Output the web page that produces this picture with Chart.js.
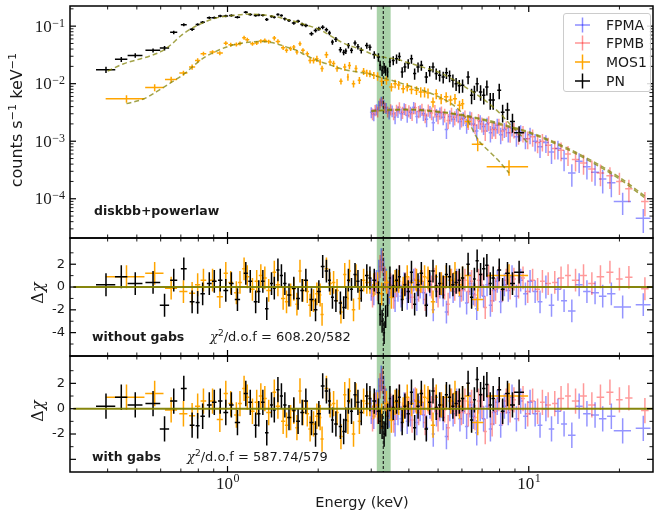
<!DOCTYPE html>
<html><head><meta charset="utf-8">
<script src="https://cdn.jsdelivr.net/npm/chart.js@4.4.0/dist/chart.umd.min.js"></script>
<style>
html,body{margin:0;padding:0;background:#fff;}
#wrap{position:relative;width:654px;height:519px;overflow:hidden;font-family:"DejaVu Sans",sans-serif;color:#1a1a1a;}
canvas{position:absolute;left:0;top:0;}
.t{position:absolute;white-space:nowrap;line-height:1;}
.rot{transform:translate(-50%,-50%) rotate(-90deg);}
.b{font-weight:bold;}
sup{font-size:70%;vertical-align:0;position:relative;top:-0.5em;}
#legend{position:absolute;left:563px;top:13px;width:86px;height:77px;border:1px solid #cccccc;border-radius:3px;background:rgba(255,255,255,0.85);}
#legend .it{position:absolute;left:42px;font-size:14px;line-height:1;}
</style></head><body>
<div id="wrap">
<canvas id="c1" width="654" height="519"></canvas>
<canvas id="c2" width="654" height="519"></canvas>
<canvas id="c3" width="654" height="519"></canvas>

<div class="t rot" style="left:17px;top:120px;font-size:16px;">counts s<sup>−1</sup> keV<sup>−1</sup></div>
<div class="t rot" style="left:38px;top:293px;font-size:16px;font-family:'DejaVu Serif',serif;">Δ<i>χ</i></div>
<div class="t rot" style="left:38px;top:411px;font-size:16px;font-family:'DejaVu Serif',serif;">Δ<i>χ</i></div>

<div class="t b" style="left:94px;top:205px;font-size:12.5px;">diskbb+powerlaw</div>
<div class="t b" style="left:92px;top:331px;font-size:12.5px;">without gabs</div>
<div class="t" style="left:210px;top:330px;font-size:13px;"><i style="font-family:'DejaVu Serif',serif;">χ</i><sup>2</sup>/d.o.f = 608.20/582</div>
<div class="t b" style="left:92px;top:451px;font-size:12.5px;">with gabs</div>
<div class="t" style="left:187px;top:450px;font-size:13px;"><i style="font-family:'DejaVu Serif',serif;">χ</i><sup>2</sup>/d.o.f = 587.74/579</div>
<div class="t" style="left:362px;top:502px;font-size:14.5px;transform:translate(-50%,-50%);">Energy (keV)</div>

<div id="legend">
<svg width="40" height="77" style="position:absolute;left:0;top:0;">
<g stroke-width="1.5">
<line x1="11" y1="11" x2="26" y2="11" stroke="rgba(0,0,255,0.45)"/><line x1="18.5" y1="3.5" x2="18.5" y2="18.5" stroke="rgba(0,0,255,0.45)"/>
<line x1="11" y1="29" x2="26" y2="29" stroke="rgba(255,0,0,0.42)"/><line x1="18.5" y1="21.5" x2="18.5" y2="36.5" stroke="rgba(255,0,0,0.42)"/>
<line x1="11" y1="48" x2="26" y2="48" stroke="#ffa500"/><line x1="18.5" y1="40.5" x2="18.5" y2="55.5" stroke="#ffa500"/>
<line x1="11" y1="67" x2="26" y2="67" stroke="#000"/><line x1="18.5" y1="59.5" x2="18.5" y2="74.5" stroke="#000"/>
</g></svg>
<div class="it" style="top:4px;">FPMA</div>
<div class="it" style="top:22px;">FPMB</div>
<div class="it" style="top:41px;">MOS1</div>
<div class="it" style="top:60px;">PN</div>
</div>
</div>

<script>
// ---------------- axis ranges & ticks ----------------
const XMIN = 0.3078, XMAX = 25.85;
const BAND = [3.13, 3.48];
const LINE_E = 3.29;
const xMajorTicks = [1, 10];
const xMinorTicks = [0.4,0.5,0.6,0.7,0.8,0.9,2,3,4,5,6,7,8,9,20];
const xTickExp = ['0','1'];
const specMajorTicks = [1e-1,1e-2,1e-3,1e-4];
const specTickExp = ['−1','−2','−3','−4'];
const specMinorTicks = [3e-5,4e-5,5e-5,6e-5,7e-5,8e-5,9e-5,2e-4,3e-4,4e-4,5e-4,6e-4,7e-4,8e-4,9e-4,
  2e-3,3e-3,4e-3,5e-3,6e-3,7e-3,8e-3,9e-3,2e-2,3e-2,4e-2,5e-2,6e-2,7e-2,8e-2,9e-2,2e-1];
const res1Major = [-4,-2,0,2], res1Labels = ['-4','-2','0','2'], res1Minor = [-5,-3,-1,1,3];
const res2Major = [-4,-2,0,2], res2Labels = ['','-2','0','2'], res2Minor = [-3,-1,1,3];

// ---------------- PN ----------------
const pnE = [0.395,0.444,0.494,0.566,0.618,0.663,0.716,0.763,0.796,0.827,
0.87,0.904,0.946,0.987,1.03,1.079,1.15,1.19,1.24,1.27,
1.31,1.35,1.40,1.43,1.47,1.51,1.55,1.60,1.66,1.715,
1.77,1.82,1.90,1.96,2.01,2.07,2.13,2.18,2.23,2.29,
2.37,2.43,2.47,2.52,2.58,2.65,2.71,2.78,2.90,2.97,
3.07,3.17,3.21,3.26,3.31,3.35,3.40,3.46,3.55,3.64,
3.72,3.80,3.88,3.98,4.08,4.18,4.29,4.40,4.57,4.69,
4.81,4.93,5.06,5.20,5.33,5.46,5.60,5.74,5.88,6.03,
6.29,6.46,6.60,6.74,6.92,7.09,7.26,7.45,7.62,7.98,
8.19,8.50,8.83,9.29];
const pnDE = [0.029,0.021,0.028,0.032,0.022,0.018,0.016,0.014,0.012,0.014,
0.016,0.016,0.016,0.018,0.018,0.022,0.018,0.018,0.018,0.016,
0.018,0.018,0.016,0.016,0.018,0.018,0.02,0.022,0.025,0.025,
0.026,0.03,0.03,0.028,0.03,0.03,0.028,0.025,0.025,0.03,
0.03,0.025,0.025,0.028,0.03,0.032,0.032,0.035,0.04,0.035,
0.045,0.04,0.025,0.025,0.025,0.025,0.025,0.03,0.04,0.04,
0.04,0.04,0.045,0.05,0.05,0.05,0.055,0.06,0.06,0.06,
0.06,0.06,0.065,0.065,0.065,0.065,0.07,0.07,0.07,0.08,
0.08,0.08,0.07,0.08,0.09,0.09,0.09,0.09,0.1,0.12,
0.12,0.15,0.17,0.35];
const pnFlux = [0.0175,0.0265,0.031,0.038,0.0416,0.078,0.106,0.088,0.107,0.117,
0.140,0.140,0.150,0.150,0.153,0.143,0.175,0.160,0.153,0.157,
0.155,0.131,0.147,0.143,0.160,0.153,0.134,0.126,0.113,0.122,
0.107,0.103,0.074,0.084,0.090,0.096,0.087,0.076,0.053,0.059,
0.039,0.035,0.037,0.046,0.038,0.051,0.044,0.038,0.046,0.043,
0.032,0.029,0.021,0.017,0.019,0.0171,0.016,0.0238,0.0254,0.0272,
0.0298,0.016,0.0195,0.0224,0.027,0.015,0.0195,0.0209,0.0131,0.0168,
0.0195,0.0150,0.0140,0.0131,0.0155,0.0138,0.0115,0.0100,0.0092,0.0094,
0.0131,0.0063,0.0072,0.0100,0.0072,0.0063,0.0088,0.0052,0.0052,0.0077,
0.0032,0.0035,0.0022,0.0014];
const pnErr = [0.12,0.10,0.09,0.08,0.09,0.07,0.06,0.06,0.05,0.05,
0.05,0.05,0.05,0.05,0.05,0.05,0.05,0.05,0.05,0.05,
0.05,0.06,0.05,0.05,0.05,0.05,0.06,0.06,0.06,0.06,
0.07,0.07,0.08,0.08,0.08,0.08,0.08,0.09,0.1,0.1,
0.11,0.11,0.11,0.11,0.11,0.1,0.11,0.12,0.12,0.12,
0.15,0.17,0.19,0.2,0.2,0.2,0.2,0.18,0.18,0.18,
0.17,0.21,0.19,0.19,0.18,0.22,0.2,0.2,0.22,0.21,
0.2,0.22,0.22,0.23,0.22,0.23,0.25,0.25,0.26,0.26,
0.25,0.3,0.28,0.27,0.3,0.31,0.29,0.32,0.32,0.3,
0.34,0.33,0.36,0.3];
const pnResNoGabs = [0.2,0.9,0.3,0.4,-1.6,0.6,1.6,-1.3,-1.35,-0.6,
0.3,0.5,0.6,-0.3,0.3,-1.1,1.2,0.5,-1.3,-0.4,
0.5,-1.9,0.3,-0.1,1.5,1.0,0.3,-0.7,-0.1,-1.0,
-0.3,0.6,-1.1,-2.0,-0.4,1.8,1.4,0.6,-0.9,-1.2,
-1.4,-1.8,-0.9,0.6,-0.2,1.1,0.5,-0.3,1.0,0.8,
0.6,-0.5,-2.4,-3.0,-4.0,-2.6,-1.6,0.8,0.1,0.6,
0.9,-1.1,0.2,-0.4,1.3,-1.5,0.2,1.2,-1.6,0.5,
1.4,0.1,0.3,0.0,1.1,0.9,0.2,0.4,0.6,0.8,
2.0,-0.9,0.7,2.3,1.1,1.6,1.9,0.3,0.8,1.5,
-0.2,1.2,0.3,1.3];
const pnResGabs = [0.2,0.9,0.3,0.4,-1.6,0.6,1.6,-1.3,-1.35,-0.6,
0.3,0.5,0.6,-0.3,0.3,-1.1,1.2,0.5,-1.3,-0.4,
0.5,-1.9,0.3,-0.1,1.5,1.0,0.3,-0.7,-0.1,-1.0,
-0.3,0.6,-1.1,-2.0,-0.4,1.8,1.4,0.6,-0.9,-1.2,
-1.4,-1.8,-0.9,0.6,-0.2,1.1,0.5,-0.3,1.0,0.8,
0.6,-0.2,-1.0,-1.4,-2.0,-1.2,-0.6,0.8,0.1,0.6,
0.9,-1.1,0.2,-0.4,1.3,-1.5,0.2,1.2,-1.6,0.5,
1.4,0.1,0.3,0.0,1.1,0.9,0.2,0.4,0.6,0.8,
2.0,-0.9,0.7,2.3,1.1,1.6,1.9,0.3,0.8,1.5,
-0.2,1.2,0.3,1.3];
const pnModelE = [0.40,0.45,0.50,0.55,0.60,0.65,0.70,0.75,0.80,0.90,1.0,1.1,1.2,1.3,1.4,1.5,1.6,1.7,1.8,1.9,2.0,2.2,2.4,2.6,2.8,3.0,3.2,3.4,3.6,4.0,4.5,5.0,5.5,6.0,6.5,7.0,7.5,8.0,8.5,9.0,9.5,10.0];
const pnModelF = [0.0165,0.022,0.026,0.030,0.036,0.048,0.068,0.088,0.105,0.135,0.150,0.158,0.162,0.158,0.150,0.140,0.128,0.118,0.107,0.098,0.090,0.068,0.052,0.044,0.039,0.033,0.030,0.028,0.027,0.023,0.019,0.016,0.0125,0.0095,0.0073,0.0056,0.0042,0.0031,0.0022,0.0016,0.0012,0.0009];

// ---------------- MOS1 ----------------
const mosE = [0.462,0.573,0.65,0.714,0.763,0.796,0.832,0.892,0.943,0.987,
1.025,1.07,1.10,1.135,1.163,1.21,1.25,1.29,1.33,1.37,
1.43,1.47,1.53,1.57,1.62,1.66,1.70,1.74,1.78,1.84,
1.88,1.93,1.98,2.03,2.06,2.13,2.19,2.25,2.31,2.38,
2.45,2.51,2.54,2.62,2.67,2.74,2.83,2.90,2.97,3.06,
3.15,3.25,3.37,3.50,3.60,3.70,3.83,3.95,4.08,4.24,
4.38,4.51,4.63,4.81,4.93,5.12,5.32,5.50,5.69,5.89,
6.03,6.28,6.77,8.6];
const mosDE = [0.068,0.04,0.03,0.022,0.018,0.016,0.018,0.02,0.022,0.016,
0.018,0.018,0.016,0.016,0.018,0.02,0.02,0.02,0.02,0.025,
0.02,0.025,0.025,0.02,0.02,0.02,0.02,0.02,0.025,0.025,
0.025,0.025,0.025,0.02,0.025,0.03,0.03,0.03,0.03,0.03,
0.03,0.02,0.03,0.035,0.03,0.035,0.04,0.035,0.035,0.04,
0.045,0.05,0.06,0.06,0.05,0.05,0.06,0.06,0.07,0.07,
0.07,0.06,0.06,0.08,0.06,0.09,0.09,0.09,0.09,0.1,
0.08,0.15,0.3,1.35];
const mosFlux = [0.0055,0.0086,0.0118,0.0153,0.0195,0.0254,0.0332,0.0354,0.034,0.0507,
0.0476,0.048,0.050,0.063,0.058,0.0495,0.051,0.055,0.0565,0.054,
0.062,0.0543,0.0422,0.038,0.0406,0.0433,0.0354,0.0496,0.038,0.0332,
0.0254,0.0254,0.0272,0.0238,0.0183,0.0319,0.0238,0.0224,0.0183,0.0110,
0.0195,0.0131,0.0208,0.0100,0.0183,0.0115,0.0164,0.0153,0.0150,0.0140,
0.0135,0.0110,0.0115,0.0088,0.0100,0.0095,0.0082,0.0088,0.0079,0.0077,
0.0072,0.0072,0.0069,0.0048,0.0067,0.0055,0.0059,0.0052,0.0055,0.0042,
0.0045,0.0022,0.00089,0.00036];
const mosErr = [0.15,0.14,0.12,0.1,0.1,0.09,0.08,0.08,0.08,0.08,
0.08,0.08,0.08,0.08,0.08,0.08,0.08,0.08,0.08,0.08,
0.09,0.09,0.09,0.09,0.09,0.09,0.09,0.09,0.09,0.09,
0.12,0.12,0.12,0.12,0.12,0.12,0.12,0.12,0.12,0.12,
0.14,0.14,0.14,0.14,0.14,0.14,0.14,0.14,0.14,0.14,
0.17,0.17,0.17,0.17,0.17,0.17,0.17,0.17,0.17,0.17,
0.2,0.2,0.2,0.2,0.2,0.2,0.2,0.2,0.2,0.2,
0.2,0.22,0.25,0.3];
const mosRes = [0.9,1.2,-0.1,-0.4,-0.55,0.2,0.6,0.6,-0.85,1.2,
0.4,-0.5,0.4,1.6,0.9,-0.2,0.5,1.0,0.8,-0.3,
1.3,0.2,-1.0,-1.3,-0.7,-0.2,-1.5,1.4,-0.3,-0.4,
-1.6,-1.2,-0.6,-0.7,-2.4,1.6,0.3,0.4,-0.3,-2.2,
1.1,-1.0,1.4,-2.0,1.0,-1.0,0.6,0.4,0.4,0.2,
0.3,-0.6,0.4,-0.9,0.5,0.5,-0.1,0.9,0.4,0.6,
0.5,0.9,0.8,-1.3,0.9,0.3,0.9,0.6,1.2,0.2,
0.8,1.0,-1.1,1.0];
const mosModelE = [0.462,0.53,0.58,0.65,0.72,0.80,0.85,0.90,1.0,1.1,1.2,1.3,1.4,1.5,1.6,1.7,1.8,1.9,2.0,2.2,2.4,2.6,2.8,3.0,3.2,3.4,3.7,4.0,4.5,5.0,5.5,6.0,6.3,6.8,7.5,8.0,8.6];
const mosModelF = [0.0045,0.0055,0.0072,0.0105,0.015,0.024,0.030,0.035,0.044,0.050,0.053,0.054,0.052,0.047,0.042,0.038,0.032,0.028,0.025,0.021,0.018,0.0165,0.0155,0.0145,0.013,0.012,0.0105,0.0092,0.0075,0.006,0.0046,0.0031,0.0022,0.00105,0.00062,0.00044,0.00028];

// ---------------- FPMA ----------------
const faE = [3.00,3.06,3.12,3.18,3.24,3.30,3.36,3.44,3.52,3.60,
3.68,3.77,3.86,3.95,4.05,4.15,4.25,4.36,4.47,4.58,
4.70,4.82,4.94,5.07,5.20,5.33,5.47,5.61,5.76,5.91,
6.06,6.22,6.38,6.55,6.72,6.90,7.08,7.27,7.46,7.66,
7.86,8.07,8.30,8.55,8.80,9.10,9.40,9.75,10.1,10.5,
10.9,11.4,11.9,12.5,13.1,13.9,14.7,15.6,16.6,17.6,
18.8,20.5,24.0];
const faDE = [0.03,0.03,0.03,0.03,0.03,0.03,0.03,0.03,0.03,0.03,
0.04,0.045,0.045,0.045,0.05,0.05,0.05,0.055,0.055,0.055,
0.06,0.06,0.06,0.065,0.065,0.07,0.07,0.07,0.075,0.075,
0.08,0.08,0.08,0.085,0.085,0.09,0.09,0.095,0.095,0.1,
0.1,0.11,0.12,0.12,0.13,0.15,0.15,0.17,0.18,0.2,
0.2,0.25,0.25,0.3,0.3,0.4,0.4,0.45,0.5,0.5,
0.6,1.35,1.35];
const faFlux = [3.2e-3,2.9e-3,3.6e-3,4.2e-3,5.0e-3,4.4e-3,3.8e-3,3.1e-3,3.4e-3,2.6e-3,
3.3e-3,3.0e-3,3.7e-3,2.8e-3,3.2e-3,3.9e-3,2.7e-3,3.4e-3,3.0e-3,2.4e-3,
3.3e-3,2.1e-3,2.9e-3,3.1e-3,2.6e-3,1.6e-3,2.7e-3,2.4e-3,2.9e-3,2.2e-3,
2.5e-3,1.9e-3,2.6e-3,2.0e-3,1.5e-3,2.2e-3,1.8e-3,2.0e-3,1.4e-3,1.7e-3,
1.9e-3,1.3e-3,1.6e-3,1.4e-3,1.7e-3,1.2e-3,1.45e-3,1.1e-3,1.3e-3,1.0e-3,
8.0e-4,9.5e-4,6.5e-4,7.5e-4,5.0e-4,2.8e-4,4.5e-4,3.6e-4,2.9e-4,2.2e-4,
1.9e-4,9.0e-5,4.6e-5];
const faErr = [0.22,0.23,0.22,0.2,0.19,0.2,0.22,0.23,0.23,0.24,
0.23,0.24,0.23,0.25,0.24,0.23,0.25,0.24,0.25,0.27,
0.24,0.28,0.25,0.24,0.27,0.32,0.27,0.27,0.25,0.28,
0.27,0.29,0.27,0.29,0.32,0.28,0.29,0.28,0.32,0.29,
0.29,0.32,0.29,0.32,0.29,0.33,0.31,0.34,0.32,0.34,
0.36,0.34,0.38,0.36,0.4,0.42,0.38,0.4,0.42,0.44,
0.44,0.42,0.45];
const faRes = [-0.2,-0.6,0.5,1.4,2.4,1.6,0.6,-0.5,0.0,-1.2,
-0.3,-0.8,0.3,-1.0,-0.4,0.6,-1.1,0.0,-0.5,-1.5,
0.2,-2.0,-0.4,0.0,-0.7,-2.2,0.0,-0.4,0.6,-0.8,
-0.2,-1.4,0.3,-0.6,-1.9,0.0,-0.8,0.2,-1.6,-0.3,
0.5,-1.3,0.2,-0.3,0.9,-0.8,0.6,-0.6,0.5,-0.4,
-1.3,0.0,-1.6,-0.2,-1.2,-2.1,0.2,-0.4,-0.5,-0.8,
-0.6,-1.75,-1.55];
const faModelE = [3.0,3.5,4.0,5.0,6.0,7.0,8.0,9.0,10.0,12.0,15.6,20.0,24.5];
const faModelF = [3.3e-3,3.45e-3,3.5e-3,3.2e-3,2.8e-3,2.35e-3,1.95e-3,1.65e-3,1.4e-3,9.5e-4,4.8e-4,2.2e-4,1.0e-4];

// ---------------- FPMB ----------------
const fbE = [3.03,3.09,3.15,3.21,3.27,3.33,3.40,3.48,3.56,3.64,
3.72,3.81,3.90,4.00,4.10,4.20,4.31,4.42,4.53,4.64,
4.76,4.88,5.00,5.13,5.26,5.40,5.54,5.68,5.83,5.98,
6.14,6.30,6.46,6.63,6.81,6.99,7.17,7.36,7.56,7.76,
7.96,8.18,8.42,8.67,8.93,9.25,9.57,9.92,10.3,10.7,
11.1,11.6,12.2,12.8,13.5,14.3,15.2,16.2,17.3,18.6,
20.0,21.5,24.3];
const fbDE = [0.03,0.03,0.03,0.03,0.03,0.03,0.035,0.035,0.035,0.035,
0.04,0.045,0.045,0.045,0.05,0.05,0.05,0.055,0.055,0.055,
0.06,0.06,0.06,0.065,0.065,0.07,0.07,0.07,0.075,0.075,
0.08,0.08,0.08,0.085,0.085,0.09,0.09,0.095,0.095,0.1,
0.1,0.11,0.12,0.12,0.13,0.15,0.15,0.17,0.18,0.2,
0.2,0.25,0.25,0.3,0.3,0.4,0.4,0.45,0.5,0.5,
0.5,0.6,0.7];
const fbFlux = [3.0e-3,3.5e-3,3.3e-3,4.6e-3,4.8e-3,3.9e-3,3.3e-3,3.6e-3,3.0e-3,3.5e-3,
3.9e-3,3.2e-3,3.6e-3,3.4e-3,3.0e-3,3.8e-3,3.3e-3,3.6e-3,2.8e-3,3.5e-3,
3.1e-3,3.4e-3,2.7e-3,3.2e-3,2.9e-3,2.3e-3,3.0e-3,2.6e-3,2.8e-3,2.4e-3,
2.7e-3,2.2e-3,2.5e-3,1.9e-3,2.3e-3,2.0e-3,1.5e-3,2.1e-3,1.6e-3,1.6e-3,
1.9e-3,1.5e-3,1.7e-3,1.4e-3,1.6e-3,1.3e-3,1.4e-3,1.1e-3,1.2e-3,9.5e-4,
1.0e-3,8.5e-4,7.5e-4,7.0e-4,6.0e-4,4.8e-4,4.2e-4,3.3e-4,2.8e-4,2.5e-4,
2.0e-4,1.5e-4,9.0e-5];
const fbErr = [0.23,0.22,0.22,0.2,0.2,0.21,0.22,0.22,0.23,0.23,
0.22,0.24,0.23,0.24,0.25,0.23,0.24,0.24,0.27,0.24,
0.25,0.25,0.27,0.25,0.27,0.29,0.27,0.28,0.27,0.28,
0.27,0.29,0.28,0.3,0.29,0.29,0.33,0.29,0.32,0.32,
0.29,0.32,0.3,0.33,0.3,0.33,0.32,0.34,0.33,0.35,
0.34,0.35,0.36,0.36,0.38,0.38,0.38,0.4,0.41,0.41,
0.42,0.42,0.45];
const fbRes = [-0.8,0.3,-0.2,1.8,2.2,0.8,-0.4,0.2,-0.9,0.1,
0.9,-0.5,0.3,-0.1,-0.9,0.7,-0.3,0.5,-1.1,0.6,
0.0,0.7,-0.8,0.3,-0.1,-1.5,0.6,-0.2,0.4,-0.3,
0.6,-0.4,0.5,-0.7,0.6,0.2,-1.8,0.9,-1.2,-0.2,
0.8,-0.3,0.6,-0.1,0.7,0.0,0.8,-0.4,0.6,-0.2,
0.5,0.3,0.4,0.8,1.0,0.6,1.0,0.3,0.9,1.3,
0.7,0.85,-0.15];
const fbModelE = [3.0,3.5,4.0,5.0,6.0,7.0,8.0,9.0,10.0,12.0,15.6,20.0,24.5];
const fbModelF = [3.4e-3,3.55e-3,3.6e-3,3.3e-3,2.9e-3,2.45e-3,2.05e-3,1.72e-3,1.46e-3,1.0e-3,5.1e-4,2.35e-4,1.08e-4];

// ---------------- helpers ----------------
const COL = {
  fpma: 'rgba(0,0,255,0.42)',
  fpmb: 'rgba(255,0,0,0.40)',
  mos: '#ffa500',
  pn: '#000000',
  model: 'rgba(128,128,0,0.72)',
  zero: 'rgba(128,128,0,0.95)'
};
function specPts(E, dE, F, err) {
  return E.map((e, i) => ({x: e, y: F[i], xl: e - dE[i], xh: e + dE[i], yl: F[i] * (1 - err[i]), yh: F[i] * (1 + err[i])}));
}
function resPts(E, dE, R) {
  return E.map((e, i) => ({x: e, y: R[i], xl: e - dE[i], xh: e + dE[i], yl: R[i] - 1, yh: R[i] + 1}));
}
function modelPts(E, F) { return E.map((e, i) => ({x: e, y: F[i]})); }
function errDs(label, data, color, w) {
  return {type: 'scatter', label, data, pointRadius: 0, pointHoverRadius: 0, errorBars: true, barColor: color, barWidth: w};
}
function lineDs(data, color, w, dash) {
  return {type: 'line', data, borderColor: color, borderWidth: w, borderDash: dash || [], pointRadius: 0,
          fill: false, cubicInterpolationMode: 'monotone', showLine: true};
}

const panelPlugin = {
  id: 'panel',
  beforeDatasetsDraw(chart) {
    const {ctx, chartArea: a} = chart;
    const x = chart.scales.x, y = chart.scales.y;
    ctx.save();
    ctx.beginPath(); ctx.rect(a.left, a.top, a.right - a.left, a.bottom - a.top); ctx.clip();
    const b0 = x.getPixelForValue(BAND[0]), b1 = x.getPixelForValue(BAND[1]);
    ctx.fillStyle = 'rgba(34,139,34,0.39)';
    ctx.fillRect(b0, a.top, b1 - b0, a.bottom - a.top);
    chart.data.datasets.forEach(ds => {
      if (!ds.errorBars) return;
      ctx.strokeStyle = ds.barColor; ctx.lineWidth = ds.barWidth;
      ds.data.forEach(p => {
        const px = x.getPixelForValue(p.x), py = y.getPixelForValue(p.y);
        ctx.beginPath();
        ctx.moveTo(x.getPixelForValue(p.xl), py); ctx.lineTo(x.getPixelForValue(p.xh), py);
        ctx.moveTo(px, y.getPixelForValue(p.yl)); ctx.lineTo(px, y.getPixelForValue(p.yh));
        ctx.stroke();
      });
    });
    ctx.restore();
  },
  afterDatasetsDraw(chart) {
    const {ctx, chartArea: a} = chart;
    const px = chart.scales.x.getPixelForValue(LINE_E);
    ctx.save();
    ctx.strokeStyle = 'rgba(20,20,20,0.9)'; ctx.lineWidth = 1.2; ctx.setLineDash([3, 2]);
    ctx.beginPath(); ctx.moveTo(px, a.top); ctx.lineTo(px, a.bottom); ctx.stroke();
    ctx.restore();
  },
  afterDraw(chart) {
    const o = chart.options.plugins.panel;
    const {ctx, chartArea: a} = chart;
    const x = chart.scales.x, y = chart.scales.y;
    ctx.save();
    ctx.strokeStyle = '#000'; ctx.fillStyle = '#1a1a1a';
    const seg = (x0, y0, x1, y1, w) => { ctx.lineWidth = w; ctx.beginPath(); ctx.moveTo(x0, y0); ctx.lineTo(x1, y1); ctx.stroke(); };
    xMajorTicks.forEach(v => { const p = x.getPixelForValue(v); seg(p, a.top, p, a.top + 6, 1.2); seg(p, a.bottom, p, a.bottom - 6, 1.2); });
    xMinorTicks.forEach(v => { const p = x.getPixelForValue(v); seg(p, a.top, p, a.top + 3.5, 0.9); seg(p, a.bottom, p, a.bottom - 3.5, 0.9); });
    o.yMajor.forEach(v => { const p = y.getPixelForValue(v); seg(a.left, p, a.left + 6, p, 1.2); seg(a.right, p, a.right - 6, p, 1.2); });
    o.yMinor.forEach(v => { const p = y.getPixelForValue(v); seg(a.left, p, a.left + 3.5, p, 0.9); seg(a.right, p, a.right - 3.5, p, 0.9); });
    ctx.lineWidth = 1.5;
    ctx.strokeRect(a.left, a.top, a.right - a.left, a.bottom - a.top);
    if (o.logLabels) {
      o.yMajor.forEach((v, i) => {
        const p = y.getPixelForValue(v);
        ctx.font = '12px "Liberation Serif", serif';
        const sw = ctx.measureText(o.logLabels[i]).width;
        ctx.textAlign = 'left'; ctx.textBaseline = 'alphabetic';
        ctx.fillText(o.logLabels[i], 65 - sw, p + 0.5);
        ctx.font = '17px "Liberation Serif", serif';
        const bw = ctx.measureText('10').width;
        ctx.fillText('10', 65 - sw - bw - 0.5, p + 5.5);
      });
    }
    if (o.linLabels) {
      ctx.font = '13px "DejaVu Sans", sans-serif';
      ctx.textAlign = 'right'; ctx.textBaseline = 'middle';
      o.yMajor.forEach((v, i) => { if (o.linLabels[i]) ctx.fillText(o.linLabels[i], 65, y.getPixelForValue(v)); });
    }
    if (o.xLabels) {
      xMajorTicks.forEach((v, i) => {
        const p = x.getPixelForValue(v);
        ctx.font = '17px "Liberation Serif", serif';
        const bw = ctx.measureText('10').width;
        ctx.font = '12px "Liberation Serif", serif';
        const sw = ctx.measureText(xTickExp[i]).width;
        const x0 = p - (bw + sw) / 2;
        ctx.textAlign = 'left'; ctx.textBaseline = 'alphabetic';
        ctx.fillText(xTickExp[i], x0 + bw + 0.5, 482);
        ctx.font = '17px "Liberation Serif", serif';
        ctx.fillText('10', x0, 488.5);
      });
    }
    ctx.restore();
  }
};

function makeChart(id, top, bottom, yScale, datasets, panelOpts) {
  return new Chart(document.getElementById(id), {
    type: 'scatter',
    data: {datasets},
    options: {
      responsive: false, animation: false, devicePixelRatio: 1,
      layout: {padding: {left: 70, right: 1, top: top, bottom: 519 - bottom}},
      scales: {
        x: {type: 'logarithmic', min: XMIN, max: XMAX, display: false},
        y: Object.assign({display: false}, yScale)
      },
      plugins: {legend: {display: false}, tooltip: {enabled: false}, panel: panelOpts},
      events: []
    },
    plugins: [panelPlugin]
  });
}

// ---- Panel 1: spectrum ----
makeChart('c1', 6, 238, {type: 'logarithmic', min: 2.08e-5, max: 0.224}, [
  errDs('FPMA', specPts(faE, faDE, faFlux, faErr), COL.fpma, 1.5),
  errDs('FPMB', specPts(fbE, fbDE, fbFlux, fbErr), COL.fpmb, 1.5),
  errDs('MOS1', specPts(mosE, mosDE, mosFlux, mosErr), COL.mos, 1.5),
  errDs('PN', specPts(pnE, pnDE, pnFlux, pnErr), COL.pn, 1.5),
  lineDs(modelPts(faModelE, faModelF), COL.model, 1.5, [5, 3]),
  lineDs(modelPts(fbModelE, fbModelF), COL.model, 1.5, [5, 3]),
  lineDs(modelPts(mosModelE, mosModelF), COL.model, 1.5, [5, 3]),
  lineDs(modelPts(pnModelE, pnModelF), COL.model, 1.5, [5, 3])
], {yMajor: specMajorTicks, yMinor: specMinorTicks, logLabels: specTickExp});

// ---- Panel 2: residuals without gabs ----
makeChart('c2', 238, 356, {type: 'linear', min: -6.05, max: 4.3}, [
  errDs('FPMA', resPts(faE, faDE, faRes), COL.fpma, 1.5),
  errDs('FPMB', resPts(fbE, fbDE, fbRes), COL.fpmb, 1.5),
  errDs('MOS1', resPts(mosE, mosDE, mosRes), COL.mos, 1.5),
  errDs('PN', resPts(pnE, pnDE, pnResNoGabs), COL.pn, 1.5),
  lineDs([{x: XMIN, y: 0}, {x: XMAX, y: 0}], COL.zero, 2)
], {yMajor: res1Major, yMinor: res1Minor, linLabels: res1Labels});

// ---- Panel 3: residuals with gabs ----
makeChart('c3', 356, 472, {type: 'linear', min: -5.0, max: 4.16}, [
  errDs('FPMA', resPts(faE, faDE, faRes), COL.fpma, 1.5),
  errDs('FPMB', resPts(fbE, fbDE, fbRes), COL.fpmb, 1.5),
  errDs('MOS1', resPts(mosE, mosDE, mosRes), COL.mos, 1.5),
  errDs('PN', resPts(pnE, pnDE, pnResGabs), COL.pn, 1.5),
  lineDs([{x: XMIN, y: 0}, {x: XMAX, y: 0}], COL.zero, 2)
], {yMajor: res2Major, yMinor: res2Minor, linLabels: res2Labels, xLabels: true});
</script>
</body></html>
